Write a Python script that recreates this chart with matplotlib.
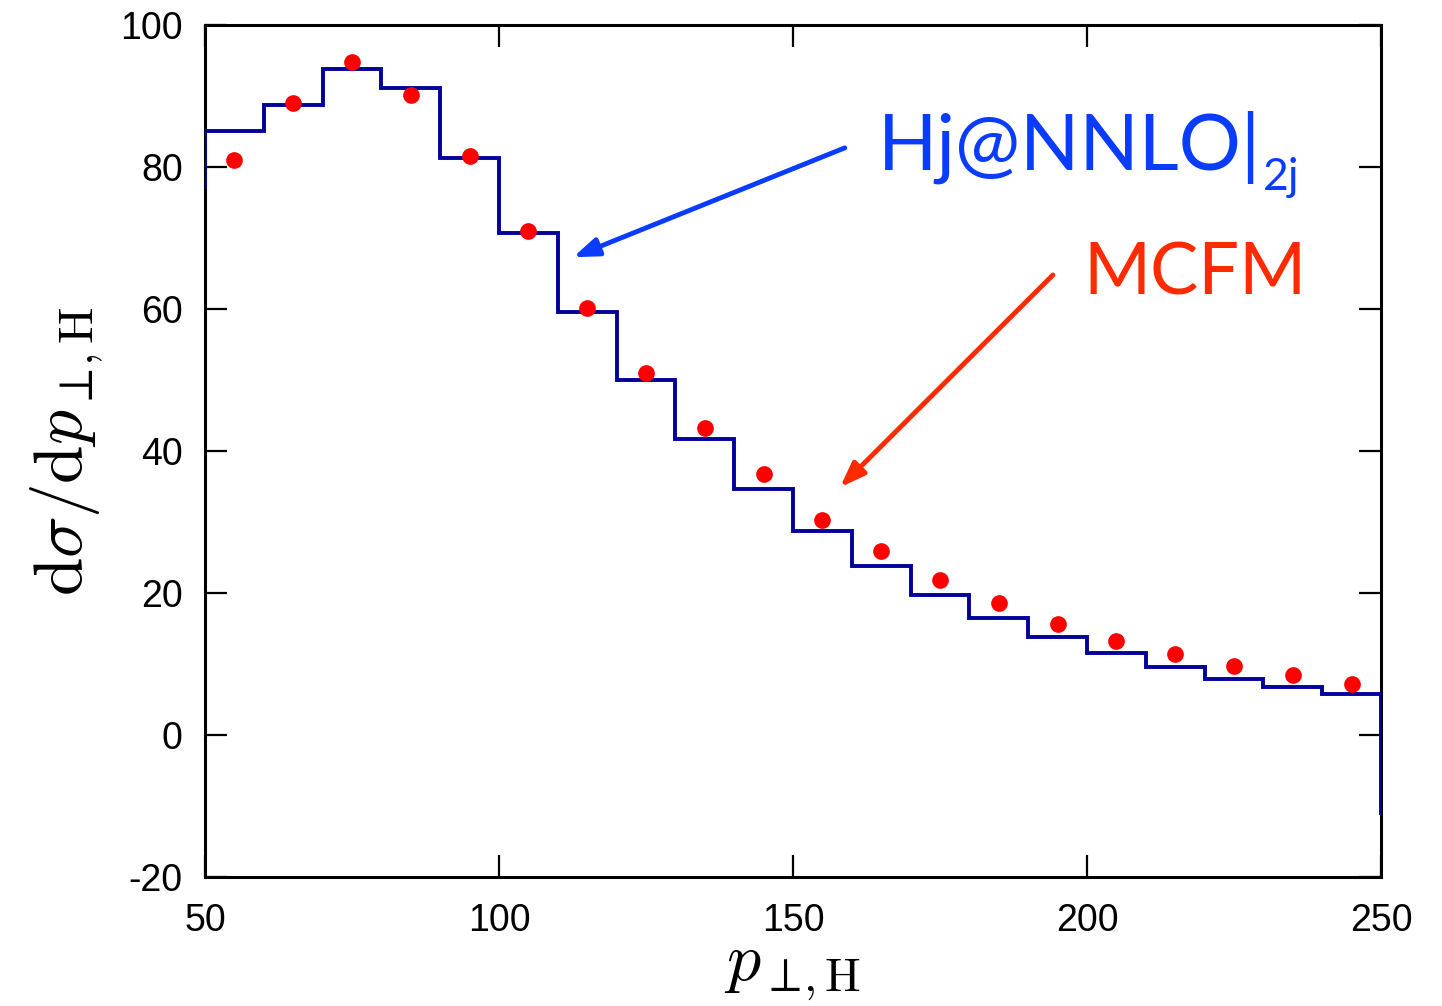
import matplotlib
matplotlib.use("Agg")
import matplotlib.pyplot as plt
import numpy as np

plt.rcParams["mathtext.fontset"] = "cm"
plt.rcParams["font.family"] = ["Liberation Sans", "DejaVu Sans"]
plt.rcParams["axes.unicode_minus"] = False

# Hj@NNLO|2j histogram (bin edges and per-bin values)
bin_edges = [40, 50, 60, 70, 80, 90, 100, 110, 120, 130, 140, 150, 160,
             170, 180, 190, 200, 210, 220, 230, 240, 250, 260]
hj_values = [77.2, 85.1, 88.7, 93.8, 91.1, 81.3, 70.7, 59.6, 50.0, 41.7, 34.6,
             28.7, 23.8, 19.7, 16.5, 13.8, 11.5, 9.6, 7.9, 6.8, 5.8, -11.0]

# MCFM points at bin centres
mcfm_x = [55, 65, 75, 85, 95, 105, 115, 125, 135, 145, 155, 165, 175, 185,
          195, 205, 215, 225, 235, 245]
mcfm_y = [81.0, 89.0, 94.8, 90.1, 81.5, 71.0, 60.1, 51.0, 43.2, 36.8, 30.3,
          25.9, 21.8, 18.6, 15.6, 13.2, 11.4, 9.7, 8.5, 7.2]

x_ticks = [50, 100, 150, 200, 250]
y_ticks = [-20, 0, 20, 40, 60, 80, 100]

fig = plt.figure(figsize=(14.42, 10.06), dpi=100)
ax = fig.add_axes([0.1422, 0.1282, 0.9577 - 0.1422, 0.9751 - 0.1282])

ax.stairs(hj_values, bin_edges, color="#00009a", lw=2.8, zorder=3)
ax.plot(mcfm_x, mcfm_y, "o", color="#ff0000", ms=11, zorder=4)

ax.set_xlim(50, 250)
ax.set_ylim(-20, 100)
ax.set_xticks(x_ticks)
ax.set_yticks(y_ticks)
ax.tick_params(direction="in", length=16, width=1.6, top=True, right=True,
               labelsize=27)
ax.tick_params(axis="x", pad=19)
ax.tick_params(axis="y", pad=16)
for s in ax.spines.values():
    s.set_linewidth(2.2)

ax.set_xlabel(r"$p_{\perp\!,\mathrm{H}}$", fontsize=49, labelpad=0)
ax.set_ylabel(r"$\mathrm{d}\sigma/\mathrm{d}p_{\perp\!,\mathrm{H}}$", fontsize=50,
              labelpad=10)

blue = "#0a3cff"
red = "#ff2a00"

t1 = ax.text(164.5, 79.6, "Hj@NNLO|", color=blue, fontsize=56,
             family=["Lato", "DejaVu Sans"], va="baseline", ha="left")
ax.annotate("2j", xy=(1, 0), xycoords=t1, xytext=(1, -4),
            textcoords="offset points", color=blue, fontsize=32,
            family=["Lato", "DejaVu Sans"], va="baseline", ha="left")
ax.text(199.3, 62.0, "MCFM", color=red, fontsize=52,
        family=["Lato", "DejaVu Sans"], va="baseline", ha="left")

ax.annotate("", xy=(112.6, 67.3), xytext=(158.8, 82.7),
            arrowprops=dict(arrowstyle="-|>,head_length=1.5,head_width=0.55",
                            color=blue, lw=3.5, shrinkA=0, shrinkB=0))
ax.annotate("", xy=(158.0, 34.9), xytext=(194.2, 64.8),
            arrowprops=dict(arrowstyle="-|>,head_length=1.5,head_width=0.55",
                            color=red, lw=3.5, shrinkA=0, shrinkB=0))

fig.savefig("out.png", dpi=100)
